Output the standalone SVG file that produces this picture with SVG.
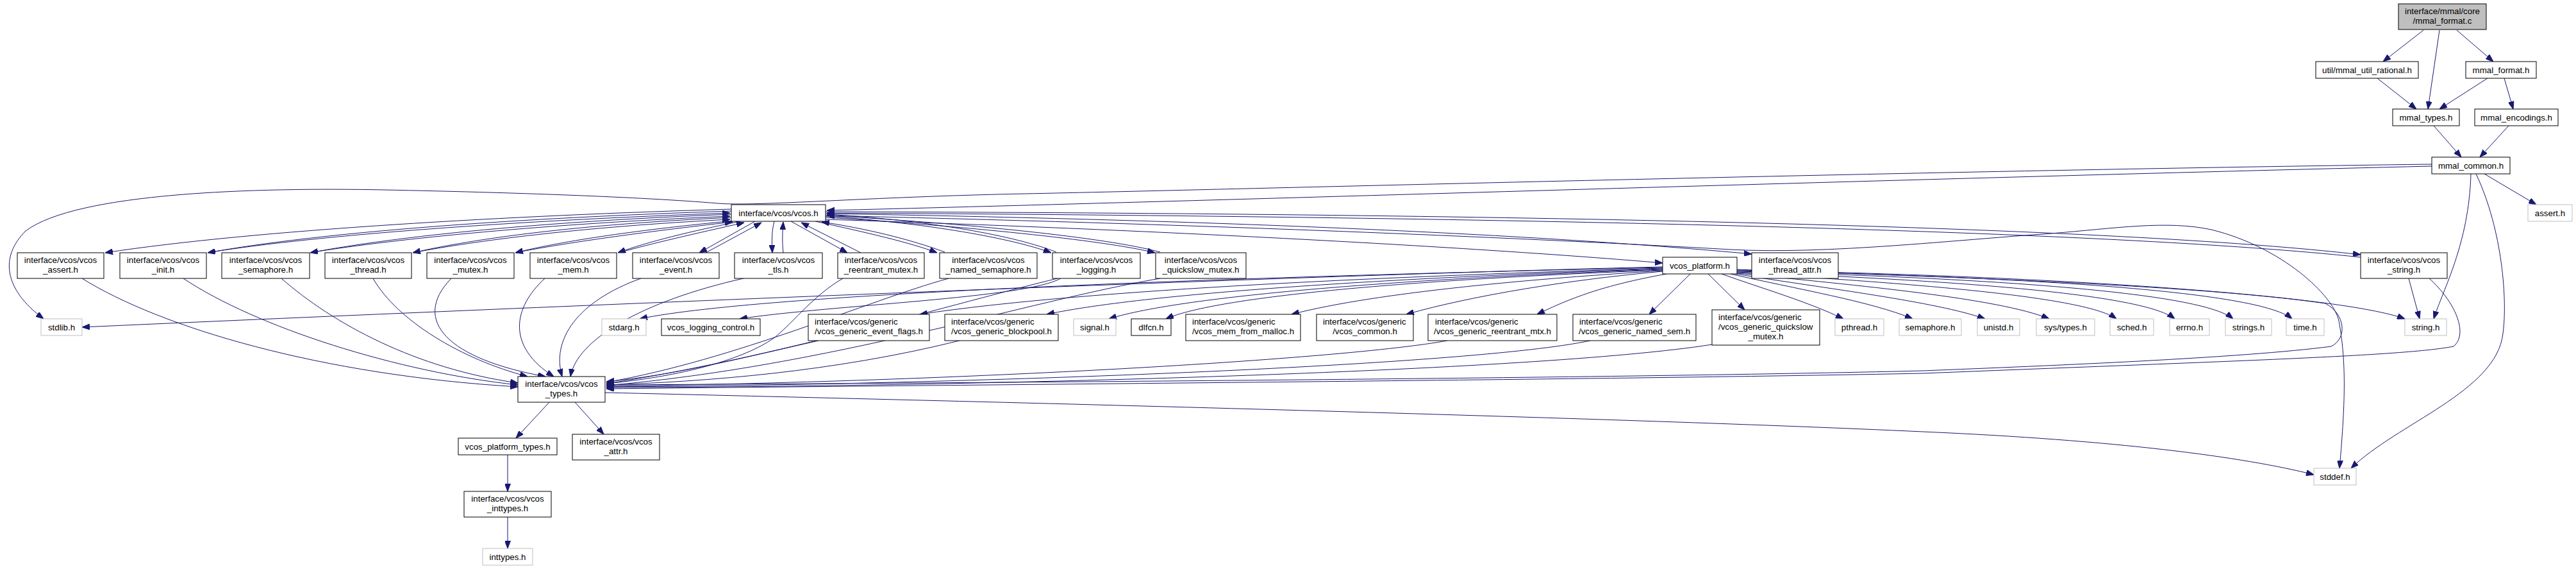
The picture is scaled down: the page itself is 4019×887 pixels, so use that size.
<svg xmlns="http://www.w3.org/2000/svg" width="4019" height="887" viewBox="0 0 4019 887">
<style>
.e{fill:none;stroke:#191970;stroke-width:1;marker-end:url(#ah)}
.n{fill:#ffffff;stroke:#000000;stroke-width:1}
.g{fill:#ffffff;stroke:#bfbfbf;stroke-width:1}
.r{fill:#bfbfbf;stroke:#000000;stroke-width:1}
text{font-family:"Liberation Sans",Arial,Helvetica,sans-serif;font-size:13.33px;fill:#000000}
.c{text-anchor:middle}
</style>
<defs>
<marker id="ah" markerWidth="12" markerHeight="9" refX="12" refY="4.5" orient="auto" markerUnits="userSpaceOnUse"><path d="M0,0 L12,4.5 L0,9 z" fill="#191970" stroke="#191970" stroke-width="1"/></marker>
</defs>
<rect width="4019" height="887" fill="#ffffff"/>
<g id="edges">
<path class="e" d="M3781,47 L3718,96"/>
<path class="e" d="M3806,47 L3788,170"/>
<path class="e" d="M3833,47 L3890,96"/>
<path class="e" d="M3709,122 L3770,170"/>
<path class="e" d="M3881,122 L3806,170"/>
<path class="e" d="M3907,122 L3921,170"/>
<path class="e" d="M3797,196 L3840,245"/>
<path class="e" d="M3914,196 L3869,245"/>
<path class="e" d="M3876,271 L3957,319"/>
<path class="e" d="M3855,271 C3852,380 3812,450 3797,497"/>
<path class="e" d="M3863,271 C3905,360 3912,470 3905,520 C3895,610 3740,660 3668,730"/>
<path class="e" d="M3794,259 C3000,278 1800,316 1290,328"/>
<path class="e" d="M3794,256 C3000,266 1900,296 1600,302 C1350,307 1180,322 1120,317 C1000,307 800,300 600,296 C400,292 120,300 40,360 C0,400 5,450 68,497"/>
<path class="e" d="M1141,326 C800,336 400,358 164,394"/>
<path class="e" d="M1141,329 C800,340 500,362 324,394"/>
<path class="e" d="M329,393 C500,366 800,344 1139,332"/>
<path class="e" d="M1141,334 C850,345 620,368 484,394"/>
<path class="e" d="M489,393 C620,372 850,349 1139,337"/>
<path class="e" d="M1141,339 C900,350 740,372 644,394"/>
<path class="e" d="M649,393 C740,376 900,354 1139,342"/>
<path class="e" d="M1145,344 C1000,358 880,375 804,394"/>
<path class="e" d="M809,393 C880,379 1000,362 1143,346"/>
<path class="e" d="M1155,345 C1080,360 1010,377 964,394"/>
<path class="e" d="M969,393 C1015,380 1085,364 1161,347"/>
<path class="e" d="M1178,345 L1091,394"/>
<path class="e" d="M1101,394 L1188,347"/>
<path class="e" d="M1208,345 C1204,360 1204,375 1205,394"/>
<path class="e" d="M1222,394 C1220,375 1221,360 1222,346"/>
<path class="e" d="M1234,345 L1322,394"/>
<path class="e" d="M1343,394 L1250,347"/>
<path class="e" d="M1272,345 C1350,362 1420,378 1462,394"/>
<path class="e" d="M1474,393 C1420,373 1350,356 1282,346"/>
<path class="e" d="M1288,337 C1450,348 1580,372 1640,394"/>
<path class="e" d="M1648,393 C1585,368 1455,344 1290,334"/>
<path class="e" d="M1288,339 C1500,352 1720,374 1802,394"/>
<path class="e" d="M1810,393 C1725,370 1505,348 1290,336"/>
<path class="e" d="M1288,342 C1800,358 2300,385 2594,410"/>
<path class="e" d="M1288,333 C1900,343 2400,365 2733,396"/>
<path class="e" d="M1288,330 C2400,333 3300,353 3683,397"/>
<path class="e" d="M3683,401 C3300,360 2400,338 1290,332"/>
<path class="e" d="M1288,336 C1900,350 2400,372 2700,389 C2850,397 3050,374 3200,364 C3300,356 3380,343 3450,358 C3560,385 3640,460 3649,500 C3660,560 3660,620 3650,730"/>
<path class="e" d="M2710,420 C2900,428 3400,440 3628,473 C3660,490 3662,528 3637,540 C3500,558 3200,570 3000,578 C2500,590 1500,597 946,600"/>
<path class="e" d="M3790,434 C3830,470 3852,520 3828,540 C3750,555 3500,562 3000,582 C2500,592 1500,600 946,606"/>
<path class="e" d="M3758,434 L3775,497"/>
<path class="e" d="M944,612 C1500,625 2500,650 3000,673 C3300,686 3500,712 3610,740"/>
<path class="e" d="M857,627 L805,683"/>
<path class="e" d="M897,627 L942,677"/>
<path class="e" d="M792,709 L792,766"/>
<path class="e" d="M792,806 L792,855"/>
<path class="e" d="M128,434 C250,510 500,585 808,603"/>
<path class="e" d="M286,434 C400,510 620,580 808,600"/>
<path class="e" d="M439,434 C520,505 650,575 808,597"/>
<path class="e" d="M582,434 C620,500 720,560 823,587"/>
<path class="e" d="M704,434 C640,500 700,560 851,587"/>
<path class="e" d="M850,434 C800,480 790,540 864,587"/>
<path class="e" d="M1000,434 C900,470 860,530 877,587"/>
<path class="e" d="M1160,434 C1000,470 900,530 890,587"/>
<path class="e" d="M1315,434 C1270,460 1240,500 1210,525 C1170,555 1080,585 946,598"/>
<path class="e" d="M1480,434 C1350,470 1150,560 946,596"/>
<path class="e" d="M1650,434 C1500,470 1200,560 946,598"/>
<path class="e" d="M1810,434 C1600,470 1300,570 946,601"/>
<path class="e" d="M1277,531 C1150,560 1050,585 946,595"/>
<path class="e" d="M1497,531 C1300,580 1100,595 946,600"/>
<path class="e" d="M2258,531 C2100,560 1500,595 946,602"/>
<path class="e" d="M2481,531 C2300,570 1500,600 946,603"/>
<path class="e" d="M2671,537 C2400,580 1500,603 946,604"/>
<path class="e" d="M2594,416 C2000,430 800,480 128,510"/>
<path class="e" d="M2594,417 C2000,430 1200,455 998,497"/>
<path class="e" d="M1655,434 C1600,465 1300,475 1154,497"/>
<path class="e" d="M2594,418 C2200,430 1700,450 1435,490"/>
<path class="e" d="M2594,419 C2200,432 1800,455 1633,490"/>
<path class="e" d="M2594,420 C2200,434 1850,460 1730,497"/>
<path class="e" d="M2594,421 C2200,436 1900,462 1819,497"/>
<path class="e" d="M2594,422 C2400,434 2150,455 2015,490"/>
<path class="e" d="M2594,423 C2450,436 2300,460 2194,490"/>
<path class="e" d="M2600,427 C2500,445 2450,465 2398,490"/>
<path class="e" d="M2637,427 L2573,490"/>
<path class="e" d="M2665,427 L2722,483"/>
<path class="e" d="M2686,427 C2750,450 2820,470 2876,497"/>
<path class="e" d="M2700,427 C2800,450 2920,470 2984,497"/>
<path class="e" d="M2708,427 C2850,450 3020,470 3097,497"/>
<path class="e" d="M2710,426 C2900,445 3120,465 3197,497"/>
<path class="e" d="M2710,425 C2950,440 3250,460 3302,497"/>
<path class="e" d="M2710,424 C3000,435 3340,455 3393,497"/>
<path class="e" d="M2710,423 C3050,432 3430,452 3484,497"/>
<path class="e" d="M2710,422 C3100,430 3520,450 3576,497"/>
<path class="e" d="M2710,421 C3200,430 3650,460 3752,497"/>
</g>
<g id="n_root"><rect class="r" x="3742" y="6" width="137" height="40"/><text class="c" x="3810.5" y="22">interface/mmal/core</text><text class="c" x="3810.5" y="37">/mmal_format.c</text></g>
<g id="n_util"><rect class="n" x="3613" y="96" width="160" height="26"/><text class="c" x="3693" y="113.5">util/mmal_util_rational.h</text></g>
<g id="n_mmal_format_h"><rect class="n" x="3847" y="96" width="110" height="26"/><text class="c" x="3902" y="113.5">mmal_format.h</text></g>
<g id="n_mmal_types"><rect class="n" x="3733" y="170" width="104" height="26"/><text class="c" x="3785" y="187.5">mmal_types.h</text></g>
<g id="n_mmal_encodings"><rect class="n" x="3861" y="170" width="130" height="26"/><text class="c" x="3926" y="187.5">mmal_encodings.h</text></g>
<g id="n_mmal_common"><rect class="n" x="3794" y="245" width="122" height="26"/><text class="c" x="3855" y="262.5">mmal_common.h</text></g>
<g id="n_assert"><rect class="g" x="3944" y="319" width="69" height="26"/><text class="c" x="3978.5" y="336.5">assert.h</text></g>
<g id="n_vcos"><rect class="n" x="1141" y="319" width="147" height="26"/><text class="c" x="1214.5" y="336.5">interface/vcos/vcos.h</text></g>
<g id="n_vcos_assert"><rect class="n" x="27" y="394" width="135" height="40"/><text class="c" x="94.5" y="410">interface/vcos/vcos</text><text class="c" x="94.5" y="425">_assert.h</text></g>
<g id="n_vcos_init"><rect class="n" x="187" y="394" width="135" height="40"/><text class="c" x="254.5" y="410">interface/vcos/vcos</text><text class="c" x="254.5" y="425">_init.h</text></g>
<g id="n_vcos_semaphore"><rect class="n" x="346" y="394" width="137" height="40"/><text class="c" x="414.5" y="410">interface/vcos/vcos</text><text class="c" x="414.5" y="425">_semaphore.h</text></g>
<g id="n_vcos_thread"><rect class="n" x="507" y="394" width="135" height="40"/><text class="c" x="574.5" y="410">interface/vcos/vcos</text><text class="c" x="574.5" y="425">_thread.h</text></g>
<g id="n_vcos_mutex"><rect class="n" x="666" y="394" width="136" height="40"/><text class="c" x="734" y="410">interface/vcos/vcos</text><text class="c" x="734" y="425">_mutex.h</text></g>
<g id="n_vcos_mem"><rect class="n" x="827" y="394" width="135" height="40"/><text class="c" x="894.5" y="410">interface/vcos/vcos</text><text class="c" x="894.5" y="425">_mem.h</text></g>
<g id="n_vcos_event"><rect class="n" x="987" y="394" width="135" height="40"/><text class="c" x="1054.5" y="410">interface/vcos/vcos</text><text class="c" x="1054.5" y="425">_event.h</text></g>
<g id="n_vcos_tls"><rect class="n" x="1146" y="394" width="137" height="40"/><text class="c" x="1214.5" y="410">interface/vcos/vcos</text><text class="c" x="1214.5" y="425">_tls.h</text></g>
<g id="n_vcos_reentrant_mutex"><rect class="n" x="1307" y="394" width="135" height="40"/><text class="c" x="1374.5" y="410">interface/vcos/vcos</text><text class="c" x="1374.5" y="425">_reentrant_mutex.h</text></g>
<g id="n_vcos_named_semaphore"><rect class="n" x="1466" y="394" width="152" height="40"/><text class="c" x="1542" y="410">interface/vcos/vcos</text><text class="c" x="1542" y="425">_named_semaphore.h</text></g>
<g id="n_vcos_logging"><rect class="n" x="1642" y="394" width="137" height="40"/><text class="c" x="1710.5" y="410">interface/vcos/vcos</text><text class="c" x="1710.5" y="425">_logging.h</text></g>
<g id="n_vcos_quickslow_mutex"><rect class="n" x="1803" y="394" width="141" height="40"/><text class="c" x="1873.5" y="410">interface/vcos/vcos</text><text class="c" x="1873.5" y="425">_quickslow_mutex.h</text></g>
<g id="n_vcos_platform"><rect class="n" x="2594" y="401" width="116" height="26"/><text class="c" x="2652" y="418.5">vcos_platform.h</text></g>
<g id="n_vcos_thread_attr"><rect class="n" x="2733" y="394" width="135" height="40"/><text class="c" x="2800.5" y="410">interface/vcos/vcos</text><text class="c" x="2800.5" y="425">_thread_attr.h</text></g>
<g id="n_vcos_string"><rect class="n" x="3683" y="394" width="135" height="40"/><text class="c" x="3750.5" y="410">interface/vcos/vcos</text><text class="c" x="3750.5" y="425">_string.h</text></g>
<g id="n_stdlib"><rect class="g" x="64" y="497" width="64" height="26"/><text class="c" x="96" y="514.5">stdlib.h</text></g>
<g id="n_stdarg"><rect class="g" x="939" y="497" width="69" height="26"/><text class="c" x="973.5" y="514.5">stdarg.h</text></g>
<g id="n_vcos_logging_control"><rect class="n" x="1032" y="497" width="154" height="26"/><text class="c" x="1109" y="514.5">vcos_logging_control.h</text></g>
<g id="n_gen_event_flags"><rect class="n" x="1261" y="490" width="189" height="41"/><text x="1271" y="506">interface/vcos/generic</text><text class="c" x="1355.5" y="521">/vcos_generic_event_flags.h</text></g>
<g id="n_gen_blockpool"><rect class="n" x="1474" y="490" width="177" height="41"/><text x="1484" y="506">interface/vcos/generic</text><text class="c" x="1562.5" y="521">/vcos_generic_blockpool.h</text></g>
<g id="n_signal"><rect class="g" x="1675" y="497" width="66" height="26"/><text class="c" x="1708" y="514.5">signal.h</text></g>
<g id="n_dlfcn"><rect class="n" x="1765" y="497" width="62" height="26"/><text class="c" x="1796" y="514.5">dlfcn.h</text></g>
<g id="n_mem_from_malloc"><rect class="n" x="1850" y="490" width="179" height="41"/><text x="1860" y="506">interface/vcos/generic</text><text class="c" x="1939.5" y="521">/vcos_mem_from_malloc.h</text></g>
<g id="n_vcos_common"><rect class="n" x="2054" y="490" width="151" height="41"/><text x="2064" y="506">interface/vcos/generic</text><text class="c" x="2129.5" y="521">/vcos_common.h</text></g>
<g id="n_gen_reentrant_mtx"><rect class="n" x="2228" y="490" width="201" height="41"/><text x="2239" y="506">interface/vcos/generic</text><text class="c" x="2328.5" y="521">/vcos_generic_reentrant_mtx.h</text></g>
<g id="n_gen_named_sem"><rect class="n" x="2454" y="490" width="192" height="41"/><text x="2464" y="506">interface/vcos/generic</text><text class="c" x="2550" y="521">/vcos_generic_named_sem.h</text></g>
<g id="n_gen_quickslow"><rect class="n" x="2671" y="483" width="168" height="55"/><text x="2681" y="499">interface/vcos/generic</text><text x="2681" y="514">/vcos_generic_quickslow</text><text class="c" x="2755" y="529">_mutex.h</text></g>
<g id="n_pthread"><rect class="g" x="2863" y="497" width="76" height="26"/><text class="c" x="2901" y="514.5">pthread.h</text></g>
<g id="n_semaphore"><rect class="g" x="2963" y="497" width="97" height="26"/><text class="c" x="3011.5" y="514.5">semaphore.h</text></g>
<g id="n_unistd"><rect class="g" x="3085" y="497" width="66" height="26"/><text class="c" x="3118" y="514.5">unistd.h</text></g>
<g id="n_sys_types"><rect class="g" x="3177" y="497" width="91" height="26"/><text class="c" x="3222.5" y="514.5">sys/types.h</text></g>
<g id="n_sched"><rect class="g" x="3292" y="497" width="68" height="26"/><text class="c" x="3326" y="514.5">sched.h</text></g>
<g id="n_errno"><rect class="g" x="3385" y="497" width="62" height="26"/><text class="c" x="3416" y="514.5">errno.h</text></g>
<g id="n_strings"><rect class="g" x="3472" y="497" width="72" height="26"/><text class="c" x="3508" y="514.5">strings.h</text></g>
<g id="n_time"><rect class="g" x="3567" y="497" width="59" height="26"/><text class="c" x="3596.5" y="514.5">time.h</text></g>
<g id="n_string"><rect class="g" x="3752" y="497" width="65" height="26"/><text class="c" x="3784.5" y="514.5">string.h</text></g>
<g id="n_vcos_types"><rect class="n" x="808" y="587" width="136" height="40"/><text class="c" x="876" y="603">interface/vcos/vcos</text><text class="c" x="876" y="618">_types.h</text></g>
<g id="n_vcos_platform_types"><rect class="n" x="715" y="683" width="154" height="26"/><text class="c" x="792" y="700.5">vcos_platform_types.h</text></g>
<g id="n_vcos_attr"><rect class="n" x="893" y="677" width="136" height="40"/><text class="c" x="961" y="693">interface/vcos/vcos</text><text class="c" x="961" y="708">_attr.h</text></g>
<g id="n_vcos_inttypes"><rect class="n" x="724" y="766" width="136" height="40"/><text class="c" x="792" y="782">interface/vcos/vcos</text><text class="c" x="792" y="797">_inttypes.h</text></g>
<g id="n_inttypes"><rect class="g" x="753" y="855" width="78" height="26"/><text class="c" x="792" y="872.5">inttypes.h</text></g>
<g id="n_stddef"><rect class="g" x="3610" y="730" width="66" height="26"/><text class="c" x="3643" y="747.5">stddef.h</text></g>
</svg>
